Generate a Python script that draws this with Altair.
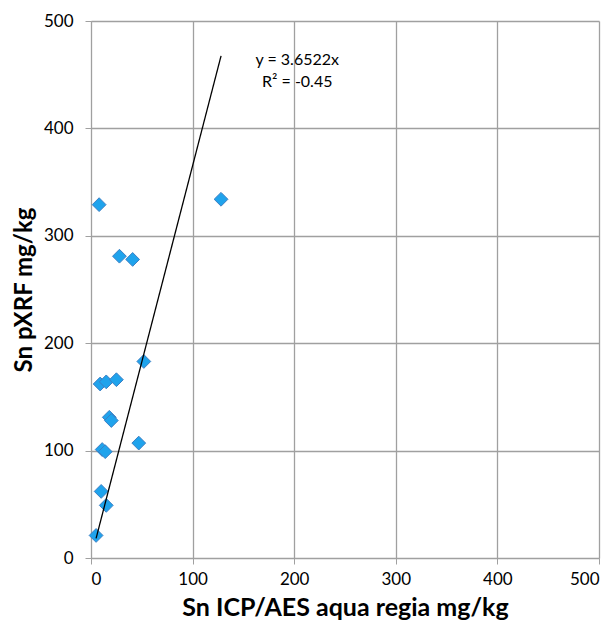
import altair as alt
import pandas as pd

x_icp = [8, 128, 28, 41, 52, 9, 15, 25, 18, 20, 47, 11, 14, 10, 15, 5]
y_pxrf = [329, 334, 281, 278, 183, 162, 164, 166, 131, 128, 107, 101, 99, 62, 49, 21]
slope = 3.6522
trend_labels = ["y = 3.6522x", "R² = -0.45"]
label_x = [203, 203]
label_y = [464, 443]

pts = pd.DataFrame({"x": x_icp, "y": y_pxrf})
trend = pd.DataFrame({"x": [min(x_icp), max(x_icp)]})
trend["y"] = trend["x"] * slope
labels = pd.DataFrame({"t": trend_labels, "x": label_x, "y": label_y})

FONT = "Lato"
xs = alt.Scale(domain=[0, 500], nice=False)
ys = alt.Scale(domain=[0, 500], nice=False)
GRID = "#a0a0a0"

xaxis = alt.Axis(values=[0, 100, 200, 300, 400, 500], title="Sn ICP/AES aqua regia mg/kg",
                 grid=True, gridColor=GRID, gridWidth=1.3, domainColor=GRID,
                 tickColor=GRID, tickSize=6, labelFont=FONT, labelFontSize=17,
                 labelColor="#000000", labelPadding=7, titleFont=FONT, titleFontSize=25,
                 titleFontWeight="bold", titleColor="#000000", titlePadding=8)
yaxis = alt.Axis(values=[0, 100, 200, 300, 400, 500], title="Sn pXRF mg/kg",
                 grid=True, gridColor=GRID, gridWidth=1.3, domainColor=GRID,
                 tickColor=GRID, tickSize=6, labelFont=FONT, labelFontSize=17,
                 labelColor="#000000", labelPadding=12, titleFont=FONT, titleFontSize=24,
                 titleFontWeight="bold", titleColor="#000000", titlePadding=7)

points = alt.Chart(pts).mark_point(shape="diamond", filled=True, size=190, fill="#1fa3ec",
                                   stroke="#3b7fc4", strokeWidth=1, opacity=1).encode(
    x=alt.X("x:Q", scale=xs, axis=xaxis),
    y=alt.Y("y:Q", scale=ys, axis=yaxis),
)
line = alt.Chart(trend).mark_line(color="#000000", strokeWidth=1.3).encode(
    x=alt.X("x:Q", scale=xs), y=alt.Y("y:Q", scale=ys))
text = alt.Chart(labels).mark_text(font=FONT, fontSize=16, color="#000000", align="center",
                                   baseline="middle").encode(
    x=alt.X("x:Q", scale=xs), y=alt.Y("y:Q", scale=ys), text="t:N")

chart = alt.layer(points, line, text).properties(
    width=508, height=537,
    autosize=alt.AutoSizeParams(type="none"),
    padding={"left": 83, "top": 13, "right": 6, "bottom": 64},
).configure_view(stroke=None)

chart.save("out.html", embed_options={"renderer": "svg", "actions": False})
